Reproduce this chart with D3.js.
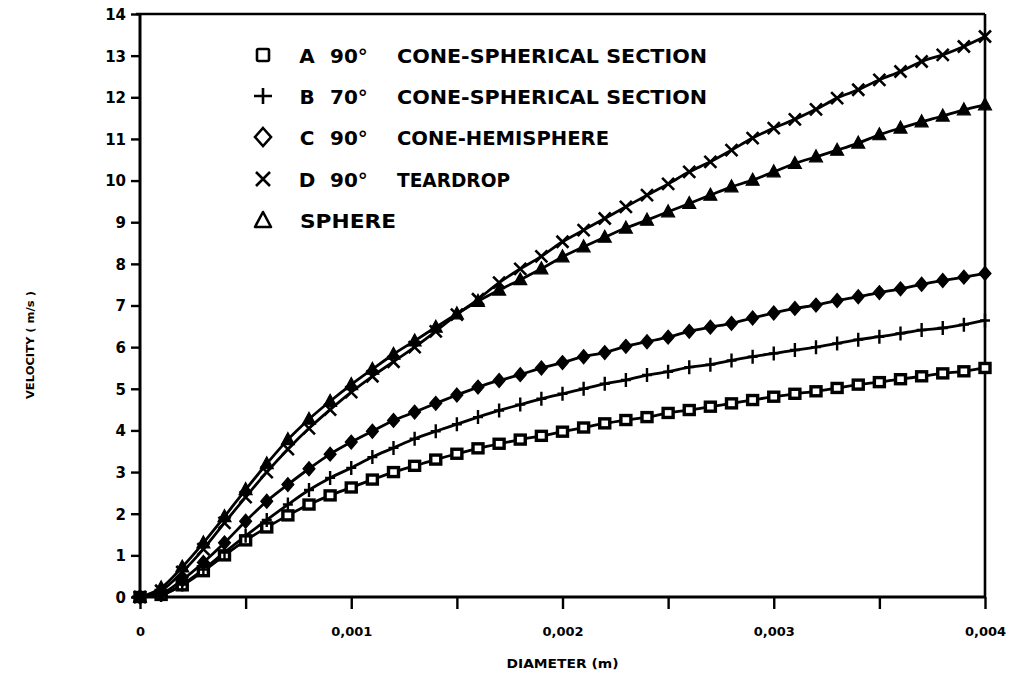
<!DOCTYPE html>
<html>
<head>
<meta charset="utf-8">
<script src="https://cdn.jsdelivr.net/npm/d3@7/dist/d3.min.js"></script>
<style>
  html, body { margin: 0; padding: 0; background: #fff; }
  svg { display: block; }
  text { font-family: "DejaVu Sans", "Liberation Sans", sans-serif; font-weight: bold; fill: #000; }
</style>
</head>
<body>
<svg id="chart" width="1011" height="681"></svg>
<script>
// Terminal velocity against particle diameter for five body shapes.
const diameters = [
  0.0000, 0.0001, 0.0002, 0.0003, 0.0004, 0.0005, 0.0006, 0.0007, 0.0008, 0.0009,
  0.0010, 0.0011, 0.0012, 0.0013, 0.0014, 0.0015, 0.0016, 0.0017, 0.0018, 0.0019,
  0.0020, 0.0021, 0.0022, 0.0023, 0.0024, 0.0025, 0.0026, 0.0027, 0.0028, 0.0029,
  0.0030, 0.0031, 0.0032, 0.0033, 0.0034, 0.0035, 0.0036, 0.0037, 0.0038, 0.0039,
  0.0040
];

// A: 90° cone-spherical section
const coneSphericalSection90 = [
  0, 0.05, 0.28, 0.62, 1.00, 1.36, 1.67, 1.96, 2.22, 2.44,
  2.63, 2.82, 3.00, 3.15, 3.30, 3.44, 3.57, 3.68, 3.78, 3.87,
  3.97, 4.07, 4.17, 4.25, 4.32, 4.42, 4.49, 4.57, 4.65, 4.73,
  4.81, 4.88, 4.94, 5.02, 5.10, 5.16, 5.23, 5.30, 5.37, 5.42,
  5.50
];

// B: 70° cone-spherical section
const coneSphericalSection70 = [
  0, 0.05, 0.30, 0.66, 1.07, 1.47, 1.85, 2.22, 2.57, 2.86,
  3.10, 3.36, 3.58, 3.80, 3.98, 4.15, 4.32, 4.48, 4.62, 4.76,
  4.88, 5.00, 5.12, 5.21, 5.33, 5.41, 5.52, 5.58, 5.68, 5.77,
  5.85, 5.93, 6.00, 6.09, 6.18, 6.25, 6.33, 6.41, 6.46, 6.54,
  6.64
];

// C: 90° cone-hemisphere
const coneHemisphere90 = [
  0, 0.08, 0.41, 0.83, 1.30, 1.82, 2.30, 2.70, 3.08, 3.43,
  3.72, 3.98, 4.24, 4.44, 4.65, 4.85, 5.04, 5.20, 5.34, 5.50,
  5.63, 5.77, 5.87, 6.02, 6.13, 6.24, 6.38, 6.48, 6.57, 6.70,
  6.82, 6.93, 7.01, 7.12, 7.21, 7.31, 7.40, 7.51, 7.60, 7.68,
  7.77
];

// D: 90° teardrop
const teardrop90 = [
  0, 0.15, 0.60, 1.15, 1.78, 2.40, 3.00, 3.55, 4.05, 4.50,
  4.92, 5.30, 5.65, 6.00, 6.38, 6.78, 7.15, 7.55, 7.88, 8.18,
  8.53, 8.81, 9.09, 9.37, 9.65, 9.92, 10.21, 10.45, 10.73, 11.02,
  11.26, 11.47, 11.71, 11.98, 12.18, 12.42, 12.62, 12.86, 13.02, 13.22,
  13.46
];

// Sphere
const sphere = [
  0, 0.22, 0.72, 1.30, 1.93, 2.58, 3.20, 3.78, 4.27, 4.70,
  5.10, 5.47, 5.83, 6.15, 6.48, 6.80, 7.10, 7.37, 7.62, 7.88,
  8.17, 8.41, 8.64, 8.86, 9.05, 9.25, 9.45, 9.65, 9.85, 10.01,
  10.21, 10.41, 10.57, 10.73, 10.90, 11.10, 11.26, 11.41, 11.55, 11.70,
  11.82
];

const seriesKeys = ["A", "B", "C", "D", ""];
const seriesNames = ["90°  CONE-SPHERICAL SECTION", "70°  CONE-SPHERICAL SECTION",
                     "90°  CONE-HEMISPHERE", "90°  TEARDROP", "SPHERE"];
const seriesMarkers = ["square", "plus", "diamond", "cross", "triangle"];
const seriesValues = [coneSphericalSection90, coneSphericalSection70, coneHemisphere90, teardrop90, sphere];

const xTicks = [0, 0.0005, 0.001, 0.0015, 0.002, 0.0025, 0.003, 0.0035, 0.004];
const xTickLabels = ["0", "", "0,001", "", "0,002", "", "0,003", "", "0,004"];
const yTicks = [0, 1, 2, 3, 4, 5, 6, 7, 8, 9, 10, 11, 12, 13, 14];

const xTitle = "DIAMETER (m)";
const yTitle = "VELOCITY ( m/s )";

const svg = d3.select("#chart");
const plot = { left: 140, right: 985, top: 14, bottom: 597 };

const x = d3.scaleLinear().domain([0, 0.004]).range([plot.left, plot.right]);
const y = d3.scaleLinear().domain([0, 14]).range([plot.bottom, plot.top]);

// Frame: top and right borders
svg.append("line")
  .attr("x1", plot.left - 4).attr("x2", plot.right)
  .attr("y1", plot.top).attr("y2", plot.top)
  .attr("stroke", "#000").attr("stroke-width", 2.6);
svg.append("line")
  .attr("x1", plot.right).attr("x2", plot.right)
  .attr("y1", plot.top).attr("y2", plot.bottom)
  .attr("stroke", "#000").attr("stroke-width", 2.6);

// Y axis
const yAxis = d3.axisLeft(y).tickValues(yTicks).tickSize(9).tickPadding(5).tickFormat(d3.format("d"));
const gy = svg.append("g").attr("transform", `translate(${plot.left},0)`).call(yAxis);
gy.select(".domain").attr("stroke-width", 3).attr("d", `M0,${plot.top}V${plot.bottom}`);
gy.selectAll(".tick line").attr("stroke-width", 2.4);
gy.selectAll(".tick text")
  .attr("font-size", 15).attr("font-family", "DejaVu Sans").attr("font-weight", "bold")
  .attr("dy", "0.36em");

// X axis
const xAxis = d3.axisBottom(x).tickValues(xTicks).tickSize(12).tickPadding(18)
  .tickFormat((d, i) => xTickLabels[i]);
const gx = svg.append("g").attr("transform", `translate(0,${plot.bottom})`).call(xAxis);
gx.select(".domain").attr("stroke-width", 3).attr("d", `M${plot.left - 8},0H${plot.right}`);
gx.selectAll(".tick line").attr("stroke-width", 2.4);
gx.selectAll(".tick text")
  .attr("font-size", 13).attr("font-family", "DejaVu Sans").attr("font-weight", "bold");

// Axis titles
svg.append("text")
  .attr("x", x(0.002)).attr("y", 668)
  .attr("text-anchor", "middle")
  .attr("font-size", 12)
  .attr("textLength", 112).attr("lengthAdjust", "spacingAndGlyphs")
  .text(xTitle);

svg.append("text")
  .attr("transform", `translate(34,${y(6.05)}) rotate(-90)`)
  .attr("text-anchor", "middle")
  .attr("font-size", 11)
  .attr("textLength", 108).attr("lengthAdjust", "spacingAndGlyphs")
  .text(yTitle);

// Marker shapes along the curves (heavy strokes, as plotted)
function drawMarker(g, type, cx, cy) {
  if (type === "square") {
    g.append("rect").attr("x", cx - 5).attr("y", cy - 4.5).attr("width", 10).attr("height", 9)
      .attr("fill", "#fff").attr("stroke", "#000").attr("stroke-width", 3.4);
  } else if (type === "plus") {
    g.append("path").attr("d", `M${cx - 5},${cy}H${cx + 5}M${cx},${cy - 7}V${cy + 7}`)
      .attr("stroke", "#000").attr("stroke-width", 2.4).attr("fill", "none");
  } else if (type === "diamond") {
    g.append("path").attr("d", `M${cx},${cy - 7}L${cx + 6},${cy}L${cx},${cy + 7}L${cx - 6},${cy}Z`)
      .attr("fill", "#000").attr("stroke", "#000").attr("stroke-width", 1.2);
  } else if (type === "cross") {
    g.append("path").attr("d", `M${cx - 6},${cy - 6}L${cx + 6},${cy + 6}M${cx - 6},${cy + 6}L${cx + 6},${cy - 6}`)
      .attr("stroke", "#000").attr("stroke-width", 2.6).attr("fill", "none");
  } else if (type === "triangle") {
    g.append("path").attr("d", `M${cx},${cy - 7}L${cx + 6.5},${cy + 5}L${cx - 6.5},${cy + 5}Z`)
      .attr("fill", "#000").attr("stroke", "#000").attr("stroke-width", 1.2);
  }
}

function drawLegendMarker(g, type, cx, cy) {
  if (type === "square") {
    g.append("rect").attr("x", cx - 6).attr("y", cy - 6).attr("width", 12).attr("height", 12)
      .attr("fill", "#fff").attr("stroke", "#000").attr("stroke-width", 2.6).attr("rx", 1.5);
  } else if (type === "plus") {
    g.append("path").attr("d", `M${cx - 9},${cy}H${cx + 9}M${cx},${cy - 8}V${cy + 8}`)
      .attr("stroke", "#000").attr("stroke-width", 2.6).attr("fill", "none");
  } else if (type === "diamond") {
    g.append("path").attr("d", `M${cx},${cy - 9}L${cx + 8},${cy}L${cx},${cy + 9}L${cx - 8},${cy}Z`)
      .attr("fill", "#fff").attr("stroke", "#000").attr("stroke-width", 2.6);
  } else if (type === "cross") {
    g.append("path").attr("d", `M${cx - 7},${cy - 7}L${cx + 7},${cy + 7}M${cx - 7},${cy + 7}L${cx + 7},${cy - 7}`)
      .attr("stroke", "#000").attr("stroke-width", 2.6).attr("fill", "none");
  } else if (type === "triangle") {
    g.append("path").attr("d", `M${cx},${cy - 8}L${cx + 8},${cy + 7}L${cx - 8},${cy + 7}Z`)
      .attr("fill", "#fff").attr("stroke", "#000").attr("stroke-width", 2.6).attr("stroke-linejoin", "round");
  }
}

// Curves with markers
const line = d3.line()
  .x((d, i) => x(diameters[i]))
  .y(d => y(d))
  .curve(d3.curveMonotoneX);

const curves = svg.append("g");
seriesValues.forEach((vals) => {
  curves.append("path")
    .datum(vals)
    .attr("d", line)
    .attr("fill", "none")
    .attr("stroke", "#000")
    .attr("stroke-width", 2.8);
});
seriesValues.forEach((vals, s) => {
  const g = curves.append("g");
  vals.forEach((v, i) => drawMarker(g, seriesMarkers[s], x(diameters[i]), y(v)));
});

// Legend
const legend = svg.append("g");
const rowY = [55, 96, 137, 179, 220];
seriesKeys.forEach((k, i) => {
  drawLegendMarker(legend, seriesMarkers[i], 263, rowY[i]);
  if (k) {
    legend.append("text").attr("x", 307).attr("y", rowY[i] + 7.5)
      .attr("text-anchor", "middle").attr("font-size", 20).text(k);
    const parts = seriesNames[i].split("  ");
    legend.append("text").attr("x", 330).attr("y", rowY[i] + 7.5)
      .attr("font-size", 20).text(parts[0]);
    const t = legend.append("text").attr("x", 397).attr("y", rowY[i] + 7.5)
      .attr("font-size", 20).text(parts[1]);
    const lengths = { "CONE-SPHERICAL SECTION": 310, "CONE-HEMISPHERE": 212, "TEARDROP": 113 };
    t.attr("textLength", lengths[parts[1]]).attr("lengthAdjust", "spacingAndGlyphs");
  } else {
    legend.append("text").attr("x", 300).attr("y", rowY[i] + 7.5)
      .attr("font-size", 20).attr("textLength", 96).attr("lengthAdjust", "spacingAndGlyphs")
      .text(seriesNames[i]);
  }
});
</script>
</body>
</html>
